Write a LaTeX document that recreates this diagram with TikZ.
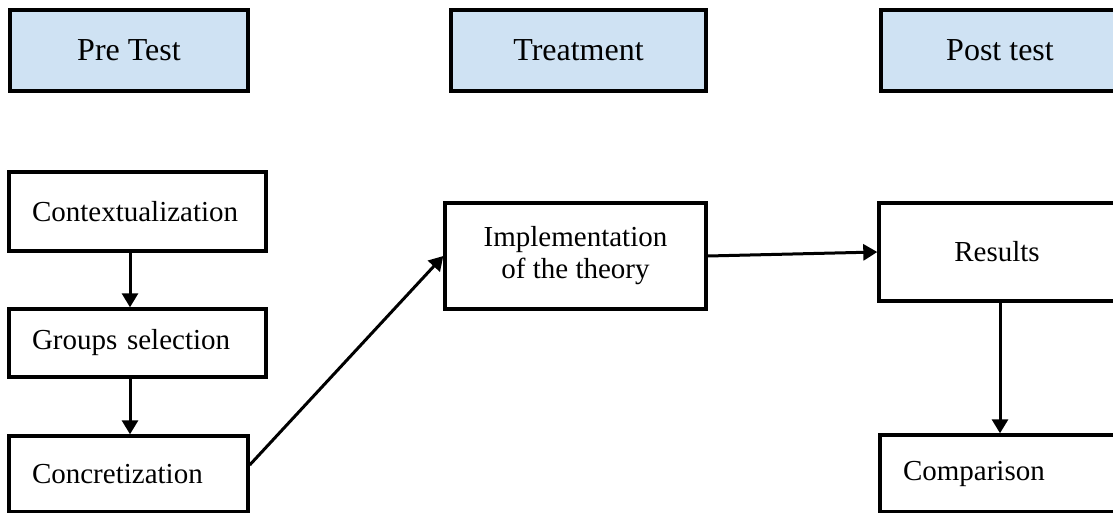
\documentclass[tikz,border=0pt]{standalone}
\usepackage{fontspec}
\setmainfont{Liberation Serif}
\usepackage{tikz}
\usetikzlibrary{calc,shapes,arrows.meta,shadows,positioning}
\definecolor{headblue}{RGB}{207,226,243}

\tikzset{
  headbox/.style={draw, line width=3.6pt, fill=headblue, minimum height=81pt,
    font=\fontsize{32}{32}\selectfont,
    drop shadow={shadow xshift=1.5pt, shadow yshift=-1.5pt, fill=black!25}},
  stepbox/.style={draw, line width=3.4pt, fill=white, align=center,
    font=\fontsize{29}{32}\selectfont},
  leftbox/.style={stepbox, align=left, inner xsep=23pt},
  flow/.style={-{Triangle[length=14pt,width=16pt]}, line width=3pt}
}

\begin{document}
\begin{tikzpicture}[x=1pt,y=-1pt]
\useasboundingbox (0,0) rectangle (1113,513);
\clip (0,0) rectangle (1113,513);

% phases
\foreach \name/\xc/\bw/\txt in {pre/129/238/{Pre Test},treat/578.5/255/{Treatment},post/1000/238/{Post test}}
  \node [headbox, minimum width=\bw pt] (\name) at (\xc,50.5) {\txt};

% pre test steps
\node [leftbox, minimum height=79pt, text width=211pt] (ctx) at (137.5,211.5) {Contextualization};
\node [leftbox, minimum height=68pt, text width=211pt] (gsel) at (137.5,343) {Groups selection};
\node [leftbox, minimum height=76pt, text width=193pt] (concr) at (128.5,474) {Concretization};

% treatment
\node [stepbox, minimum width=261pt, minimum height=106pt] (impl) at (575.5,256) {Implementation\\of the theory};

% post test
\node [stepbox, minimum width=236pt, minimum height=98pt] (res) at (997,252) {Results};
\node [leftbox, minimum height=77pt, text width=189pt] (comp) at (997.5,473.5) {Comparison};

\draw[flow] ([xshift=-7.5pt]ctx.south) -- ([xshift=-7.5pt]gsel.north);
\draw[flow] ([xshift=-7.5pt]gsel.south) -- ([xshift=1.5pt]concr.north);
\draw[flow] ([yshift=9pt]concr.east) -- (impl.west);
\draw[flow] (impl.east) -- (res.west);
\draw[flow] ([xshift=3pt]res.south) -- ([xshift=2.5pt]comp.north);

\end{tikzpicture}
\end{document}
